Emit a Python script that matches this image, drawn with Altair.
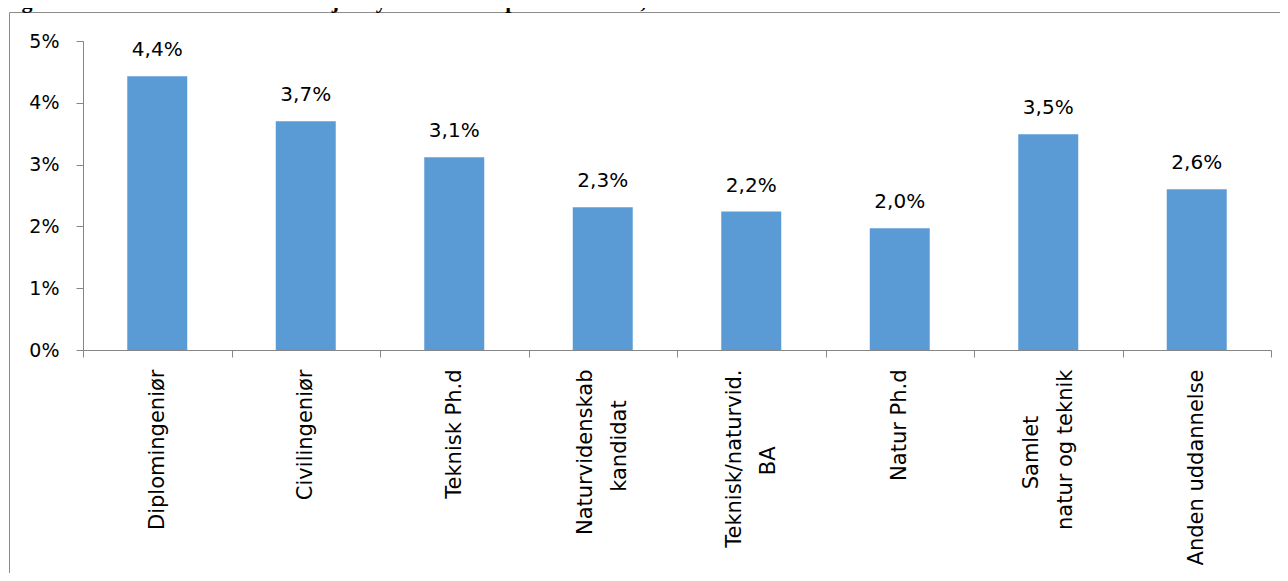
import altair as alt
import pandas as pd

# ---- data ----
categories = [
    "Diplomingeniør",
    "Civilingeniør",
    "Teknisk Ph.d",
    "Naturvidenskab\nkandidat",
    "Teknisk/naturvid.\nBA",
    "Natur Ph.d",
    "Samlet\nnatur og teknik",
    "Anden uddannelse",
]
shares = [0.0443, 0.0370, 0.0312, 0.0231, 0.0224, 0.0197, 0.0349, 0.0260]
y_ticks = [0.0, 0.01, 0.02, 0.03, 0.04, 0.05]
title_text = "Figur 1 Andel iværksættere af arbejdsstyrken fordelt på uddannelse, 2013"

# blank (braille-blank) cells appended to the shorter line of two-line labels so that the
# lines of a label are centred on one another
short_line_pad = {"kandidat": 2, "BA": 5, "Samlet": 3}
BLANK = "\u2800"


def axis_label(label):
    """Lay a label out on a half-line grid so that every label block is centred on its band."""
    lines = [l + BLANK * short_line_pad.get(l, 0) for l in label.split("\n")]
    if len(lines) == 1:
        return BLANK + "\n" + lines[0]
    return ("\n" + BLANK + "\n").join(lines)


df = pd.DataFrame({"cat": [axis_label(c) for c in categories], "share": shares})
order = list(df["cat"])

FONT = "DejaVu Sans"
GREY = "#868686"
BAR = "#5B9BD5"

base = alt.Chart(df)

x_enc = alt.X(
    "cat:N",
    sort=order,
    title=None,
    scale=alt.Scale(paddingInner=0, paddingOuter=0),
    axis=alt.Axis(
        labelAngle=-90,
        labelAlign="right",
        labelBaseline="middle",
        labelFont=FONT,
        labelFontSize=21,
        labelColor="#000000",
        labelLineHeight=17,
        labelOffset=-17,
        labelLimit=400,
        labelPadding=12,
        labelExpr="split(datum.label, '\\n')",
        tickBand="extent",
        tickSize=7,
        tickColor=GREY,
        domainColor=GREY,
    ),
)
y_enc = alt.Y(
    "share:Q",
    title=None,
    scale=alt.Scale(domain=[0, 0.05], nice=False),
    axis=alt.Axis(
        values=y_ticks,
        format=".0%",
        grid=False,
        labelFont=FONT,
        labelFontSize=19,
        labelColor="#000000",
        labelPadding=17,
        tickSize=7,
        tickColor=GREY,
        domainColor=GREY,
    ),
)

bars = base.mark_bar(color=BAR, width=alt.RelativeBandSize(0.404)).encode(x=x_enc, y=y_enc)

labels = (
    base.transform_calculate(lbl="replace(format(datum.share, '.1%'), '.', ',')")
    .mark_text(font=FONT, fontSize=20, color="#000000", baseline="alphabetic", dy=-20)
    .encode(x=alt.X("cat:N", sort=order), y="share:Q", text="lbl:N")
)

frame = (
    alt.Chart(pd.DataFrame({"k": [0]}))
    .mark_rect(filled=False, stroke="#8c8c8c", strokeWidth=1)
    .encode(x=alt.value(-73.5), x2=alt.value(1300), y=alt.value(-28.5), y2=alt.value(700))
)

title = (
    alt.Chart(pd.DataFrame({"t": [title_text]}))
    .mark_text(
        font="Liberation Serif",
        fontSize=22,
        fontWeight="bold",
        color="#000000",
        align="left",
        baseline="alphabetic",
    )
    .encode(text="t:N", x=alt.value(-81), y=alt.value(-33.5))
)

chart = (
    alt.layer(frame, bars, labels, title)
    .properties(
        width=1188,
        height=309,
        padding={"left": 75, "top": 33, "right": 9, "bottom": 223},
        autosize=alt.AutoSizeParams(type="none"),
    )
    .configure_view(stroke=None)
)

chart.save("out.html", embed_options={"renderer": "svg", "actions": False})
